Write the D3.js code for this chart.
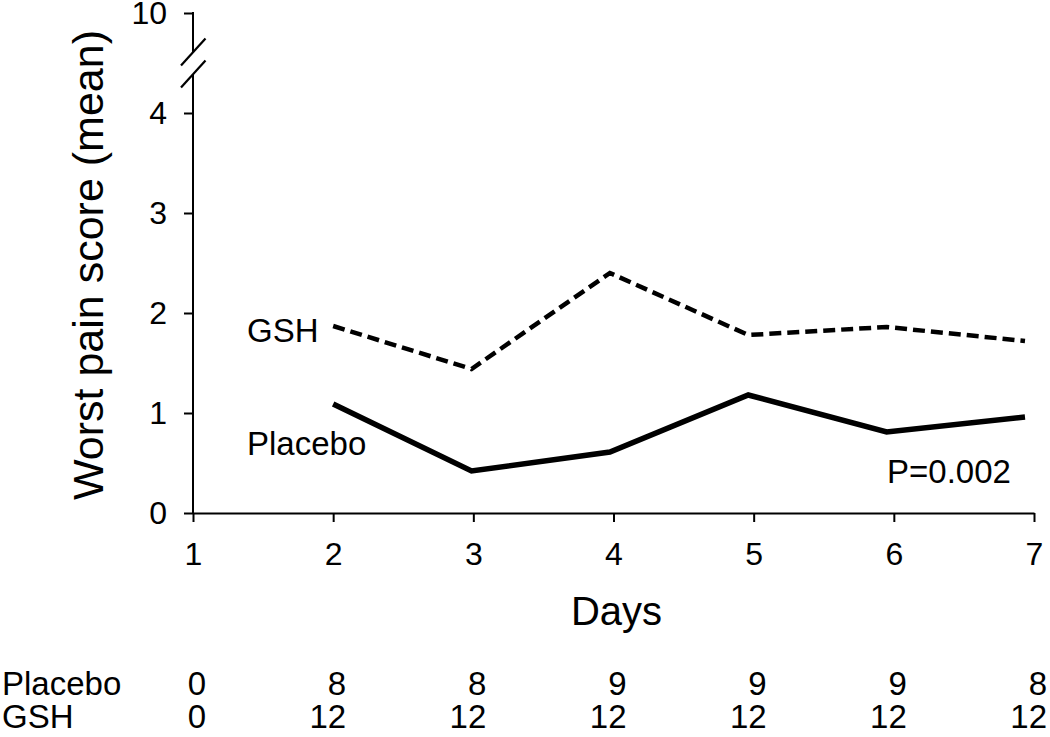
<!DOCTYPE html>
<html>
<head>
<meta charset="utf-8">
<script src="https://cdn.jsdelivr.net/npm/d3@7"></script>
<style>
  html, body { margin: 0; padding: 0; background: #fff; }
  svg { display: block; font-family: "Liberation Sans", Arial, sans-serif; }
</style>
</head>
<body>
<svg id="chart" width="1050" height="737"></svg>
<script>
// ---- data ----
const days = [2, 3, 4, 5, 6, 7];
const gshValues = [1.87, 1.44, 2.40, 1.78, 1.86, 1.72];
const placeboValues = [1.09, 0.42, 0.61, 1.18, 0.81, 0.96];
const xTickValues = [1, 2, 3, 4, 5, 6, 7];
const yTickValues = [0, 1, 2, 3, 4, 10];
const tableDays = [1, 2, 3, 4, 5, 6, 7];
const placeboN = [0, 8, 8, 9, 9, 9, 8];
const gshN = [0, 12, 12, 12, 12, 12, 12];
const pText = "P=0.002";

// ---- layout ----
const svg = d3.select("#chart");
const x = d3.scaleLinear().domain([1, 7]).range([193, 1034]);
const xLine = d3.scaleLinear().domain([2, 7]).range([x(2), x(7) - 9]);
const y = d3.scaleLinear().domain([0, 4, 10]).range([513, 113, 13]);

const black = "#000";

// x axis
const gx = svg.append("g")
  .attr("transform", `translate(0,${y(0)})`)
  .call(d3.axisBottom(x).tickValues(xTickValues).tickFormat(d3.format("d"))
    .tickSize(9).tickSizeOuter(0).tickPadding(20));
gx.select(".domain").attr("stroke", black).attr("stroke-width", 2);
gx.selectAll(".tick line").attr("stroke", black).attr("stroke-width", 2);
gx.selectAll(".tick text").attr("font-size", 32).attr("font-family", "Liberation Sans, Arial, sans-serif").attr("fill", black);

// y axis (ticks only; domain drawn with a break)
const gy = svg.append("g")
  .attr("transform", `translate(${x(1)},0)`)
  .call(d3.axisLeft(y).tickValues(yTickValues).tickFormat(d3.format("d"))
    .tickSize(9).tickSizeOuter(0).tickPadding(17));
gy.select(".domain").remove();
gy.selectAll(".tick line").attr("stroke", black).attr("stroke-width", 2);
gy.selectAll(".tick text").attr("font-size", 32).attr("font-family", "Liberation Sans, Arial, sans-serif").attr("fill", black);

// broken y axis line
const ax = x(1);
const b1 = y(10) + 39, b2 = y(10) + 61;
svg.append("line").attr("x1", ax).attr("x2", ax).attr("y1", y(10) - 1).attr("y2", b1)
  .attr("stroke", black).attr("stroke-width", 2);
svg.append("line").attr("x1", ax).attr("x2", ax).attr("y1", b2).attr("y2", y(0) + 1)
  .attr("stroke", black).attr("stroke-width", 2);
// horizontal cap at top
[b1, b2].forEach(b => {
  svg.append("line")
    .attr("x1", ax - 12).attr("y1", b + 13.5)
    .attr("x2", ax + 12.5).attr("y2", b - 13.5)
    .attr("stroke", black).attr("stroke-width", 2.2);
});

// lines
const line = d3.line().x((d, i) => xLine(days[i])).y(d => y(d));
svg.append("path").datum(gshValues)
  .attr("d", line).attr("fill", "none").attr("stroke", black)
  .attr("stroke-width", 4.5).attr("stroke-dasharray", "12,6")
  .attr("stroke-linejoin", "miter");
svg.append("path").datum(placeboValues)
  .attr("d", line).attr("fill", "none").attr("stroke", black)
  .attr("stroke-width", 5.5).attr("stroke-linejoin", "miter");

// labels
const lab = (t, xx, yy, size, anchor) => svg.append("text")
  .attr("x", xx).attr("y", yy).attr("font-size", size)
  .attr("text-anchor", anchor || "start").attr("fill", black).text(t);

lab("GSH", 247, 342, 33);
lab("Placebo", 247, 455, 33);
lab(pText, 887, 483, 33);

// axis titles
lab("Days", x(4) + 3, 625, 40, "middle");
svg.append("text")
  .attr("transform", `translate(103,${265}) rotate(-90)`)
  .attr("text-anchor", "middle").attr("font-size", 43).attr("fill", black)
  .text("Worst pain score (mean)");

// numbers-at-risk table
lab("Placebo", 2, 695, 33);
lab("GSH", 2, 728, 33);
svg.append("g").selectAll("text").data(placeboN).join("text")
  .attr("x", (d, i) => x(tableDays[i]) + 13).attr("y", 695)
  .attr("text-anchor", "end").attr("font-size", 33).attr("fill", black)
  .text(d => d);
svg.append("g").selectAll("text").data(gshN).join("text")
  .attr("x", (d, i) => x(tableDays[i]) + 13).attr("y", 728)
  .attr("text-anchor", "end").attr("font-size", 33).attr("fill", black)
  .text(d => d);
</script>
</body>
</html>
